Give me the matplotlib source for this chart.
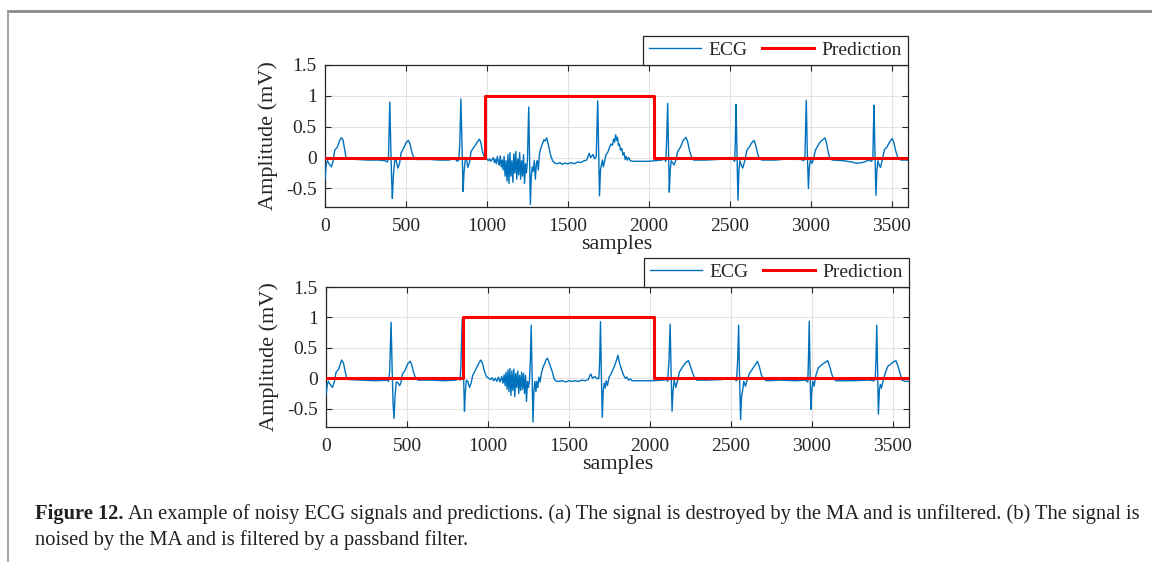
import matplotlib
matplotlib.use('Agg')
import matplotlib.pyplot as plt
from matplotlib.lines import Line2D

plt.rcParams['font.family'] = ['Liberation Serif', 'DejaVu Serif']

# ---------------- data ----------------
x_ticks = [0, 500, 1000, 1500, 2000, 2500, 3000, 3500]
y_ticks = [-0.5, 0, 0.5, 1, 1.5]
y_tick_labels = ['-0.5', '0', '0.5', '1', '1.5']
legend_labels = ['ECG', 'Prediction']

# (a) unfiltered noisy ECG: sample index / amplitude (mV)
ecg_a_x = [0, 8, 15, 25, 40, 50, 60, 76, 90, 100, 110, 120, 130, 140, 200, 260, 330, 370, 385, 392,
           400, 406, 412, 416, 422, 430, 440, 450, 460, 470, 485, 500, 515, 525, 535, 548, 560, 650, 700,
           760, 805, 815, 826, 832, 839, 845, 849, 853, 858, 866, 874, 882, 892, 902, 920, 940, 953, 962,
           972, 985, 995,
           1000, 1008, 1016, 1024, 1032, 1040, 1046, 1052, 1058, 1064, 1070, 1076, 1082, 1088, 1094, 1100,
           1106, 1112, 1118, 1124, 1130, 1136, 1142, 1148, 1154, 1160, 1166, 1172, 1178, 1184, 1190, 1196,
           1202, 1208, 1214, 1220, 1226, 1232, 1238, 1244, 1250,
           1258, 1263, 1268, 1274, 1280, 1286, 1292, 1299, 1305, 1311, 1317, 1324, 1332, 1342, 1352, 1360,
           1369, 1378, 1386, 1393, 1405, 1420, 1435, 1450, 1465, 1480, 1500, 1520, 1540, 1560, 1580, 1600,
           1616, 1625, 1632, 1640, 1655, 1665, 1675, 1684, 1690, 1695, 1701, 1707, 1713, 1719, 1726, 1735,
           1745, 1755, 1765, 1775, 1782, 1788, 1795, 1800, 1806, 1812, 1818, 1825, 1832, 1840, 1847, 1853,
           1860, 1867, 1875, 1885, 1900, 1950, 2000, 2040, 2080, 2095, 2105, 2110, 2116, 2121, 2126, 2132,
           2138, 2146, 2155, 2165, 2178, 2195, 2212, 2229, 2240, 2252, 2265, 2276, 2350, 2420, 2490, 2520,
           2530, 2534, 2538, 2543, 2550, 2556, 2562, 2570, 2580, 2592, 2605, 2620, 2635, 2649, 2660, 2670,
           2682, 2700, 2780, 2860, 2940, 2955, 2963, 2967, 2972, 2978, 2985, 2991, 2998, 3006, 3014, 3028,
           3045, 3060, 3078, 3088, 3098, 3108, 3118, 3135, 3200, 3250, 3280, 3320, 3360, 3375, 3383, 3386,
           3390, 3395, 3402, 3408, 3414, 3422, 3430, 3440, 3455, 3470, 3488, 3503, 3513, 3525, 3540, 3560,
           3600]
ecg_a_y = [-0.35, -0.10, -0.05, -0.10, -0.15, -0.05, 0.12, 0.17, 0.27, 0.32, 0.30, 0.15, 0.00, -0.02,
           -0.03, -0.04, -0.04, -0.05, -0.07, 0.00,
           0.90, 0.20, -0.40, -0.66, -0.30, -0.05, -0.05, -0.17, -0.10, 0.08, 0.15, 0.24, 0.28, 0.22, 0.10,
           0.00, -0.03, -0.03, -0.04, -0.04, -0.02, -0.06, -0.04, 0.20, 0.95, 0.30, -0.20, -0.55, -0.25,
           -0.03, -0.02, -0.16, -0.08, 0.10, 0.17, 0.25, 0.30, 0.25, 0.10, 0.00, -0.02,
           -0.02, -0.05, -0.02, -0.06, -0.03, 0.00, -0.08, -0.03, -0.10, 0.02, -0.06, -0.12, 0.03, -0.15,
           -0.04, -0.20, 0.02, -0.30, -0.05, -0.38, 0.05, -0.42, 0.08, -0.30, -0.05, -0.40, 0.06, -0.25,
           0.10, -0.35, -0.02, -0.28, 0.08, -0.35, -0.05, -0.30, 0.05, -0.42, -0.10, -0.25, -0.05,
           0.82, 0.00, -0.76, -0.30, -0.15, -0.22, -0.05, -0.35, -0.10, -0.05, -0.20, 0.05, 0.15, 0.22,
           0.29, 0.27, 0.32, 0.22, 0.12, 0.04, -0.05, -0.09, -0.10, -0.08, -0.11, -0.09, -0.10, -0.08,
           -0.10, -0.07, -0.08, -0.05, -0.04, 0.02, 0.07, 0.00, 0.05, -0.02, 0.02, 0.92, 0.10, -0.62,
           -0.20, -0.12, -0.04, -0.15, -0.06, 0.05, 0.08, 0.15, 0.22, 0.20, 0.30, 0.25, 0.37, 0.28, 0.33,
           0.20, 0.22, 0.12, 0.15, 0.04, 0.08, -0.03, 0.02, -0.04, 0.00, -0.05, -0.06, -0.06, -0.06,
           -0.05, -0.04, -0.02, -0.06, 0.30, 0.88, 0.20, -0.56, -0.20, -0.05, -0.08, -0.12, -0.05, 0.10,
           0.17, 0.28, 0.33, 0.25, 0.10, 0.00, -0.04, -0.04, -0.03, -0.02, -0.03, -0.06, 0.30, 0.86, 0.20,
           -0.69, -0.20, -0.05, -0.12, -0.17, -0.05, 0.12, 0.17, 0.24, 0.28, 0.20, 0.08, -0.02, -0.04,
           -0.04, -0.02, -0.03, -0.05, -0.02, 0.40, 0.93, 0.10, -0.50, -0.15, -0.04, -0.09, -0.05, 0.12,
           0.20, 0.26, 0.30, 0.32, 0.22, 0.08, -0.02, -0.04, -0.05, -0.07, -0.09, -0.08, -0.04, -0.06,
           -0.02, 0.40, 0.85, 0.20, -0.61, -0.20, -0.05, -0.12, -0.16, -0.05, 0.13, 0.17, 0.26, 0.31, 0.24,
           0.10, -0.02, -0.04, -0.04]

# (b) filtered noisy ECG
ecg_b_x = [0, 8, 15, 25, 40, 52, 62, 78, 90, 97, 108, 118, 128, 140, 220, 300, 380, 385, 393, 402,
           408, 414, 420, 426, 434, 444, 454, 462, 472, 488, 505, 520, 530, 540, 555, 570, 650, 730, 800,
           810, 820, 828, 833, 841, 847, 851, 855, 860, 867, 876, 886, 896, 906, 922, 940, 956, 966, 978,
           990, 1006,
           1015, 1025, 1035, 1045, 1055, 1065, 1075, 1085, 1093, 1100, 1106, 1112, 1118, 1124, 1130, 1136,
           1142, 1148, 1154, 1160, 1166, 1172, 1178, 1184, 1190, 1196, 1202, 1208, 1214, 1220, 1226, 1232,
           1238, 1244, 1250, 1256,
           1262, 1267, 1272, 1278, 1284, 1290, 1296, 1302, 1308, 1315, 1322, 1330, 1340, 1350, 1358, 1367,
           1375, 1385, 1398, 1410, 1425, 1439, 1460, 1480, 1500, 1520, 1540, 1560, 1580, 1600, 1620, 1630,
           1636, 1645, 1660, 1675, 1685, 1690, 1695, 1700, 1706, 1712, 1718, 1724, 1730, 1738, 1748, 1758,
           1768, 1778, 1788, 1796, 1803, 1810, 1818, 1828, 1838, 1848, 1858, 1868, 1880, 1890, 1950, 2017,
           2080, 2100, 2110, 2118, 2125, 2131, 2137, 2143, 2150, 2160, 2170, 2182, 2200, 2222, 2238, 2250,
           2265, 2280, 2290, 2350, 2450, 2490, 2520, 2535, 2542, 2548, 2553, 2560, 2566, 2573, 2580, 2590,
           2600, 2615, 2635, 2650, 2664, 2675, 2688, 2699, 2720, 2800, 2900, 2960, 2975, 2979, 2984, 2989,
           2994, 3000, 3006, 3014, 3025, 3040, 3060, 3080, 3098, 3110, 3122, 3133, 3150, 3250, 3350, 3385,
           3391, 3396, 3401, 3406, 3411, 3417, 3423, 3430, 3440, 3455, 3470, 3490, 3505, 3519, 3532, 3545,
           3556, 3575, 3600]
ecg_b_y = [-0.27, -0.10, -0.05, -0.10, -0.15, -0.05, 0.10, 0.15, 0.25, 0.30, 0.25, 0.12, 0.00, -0.02,
           -0.03, -0.04, -0.03, -0.05, 0.10, 0.92,
           0.20, -0.40, -0.66, -0.30, -0.06, -0.07, -0.12, -0.08, 0.07, 0.13, 0.24, 0.28, 0.22, 0.10,
           -0.01, -0.03, -0.03, -0.04, -0.03, -0.02, 0.00, -0.03, 0.20, 0.97, 0.30, -0.20, -0.54, -0.25,
           -0.03, -0.05, -0.15, -0.08, 0.05, 0.13, 0.23, 0.30, 0.25, 0.12, 0.03, 0.00,
           -0.02, 0.01, -0.04, 0.00, -0.05, 0.02, -0.06, 0.03, -0.08, 0.06, -0.12, 0.10, -0.18, 0.14,
           -0.22, 0.16, -0.28, 0.12, -0.20, 0.15, -0.30, 0.08, -0.15, 0.12, -0.25, 0.05, -0.20, 0.10,
           -0.18, 0.08, -0.25, 0.05, -0.38, -0.05, -0.15, -0.05,
           0.30, 0.87, 0.10, -0.72, -0.20, -0.05, -0.22, -0.05, -0.15, 0.02, -0.06, 0.08, 0.18, 0.24,
           0.30, 0.33, 0.28, 0.20, 0.10, -0.02, -0.05, -0.05, -0.04, -0.06, -0.04, -0.05, -0.04, -0.05,
           -0.03, -0.04, -0.02, 0.05, 0.07, 0.00, 0.03, -0.01, 0.00, 0.30, 0.93, 0.10, -0.64, -0.20,
           -0.08, -0.16, -0.04, -0.12, 0.02, 0.06, 0.12, 0.18, 0.25, 0.32, 0.38, 0.28, 0.20, 0.12, 0.05,
           0.00, 0.02, -0.03, -0.01, -0.04, -0.04, -0.04, -0.03, -0.02, -0.05, 0.30, 0.89, 0.10, -0.54,
           -0.20, -0.03, -0.15, -0.05, 0.10, 0.18, 0.26, 0.29, 0.20, 0.08, -0.01, -0.03, -0.03, -0.02,
           0.01, -0.01, -0.04, 0.30, 0.87, 0.10, -0.68, -0.30, -0.19, -0.05, -0.13, -0.03, 0.08, 0.16,
           0.22, 0.28, 0.20, 0.06, 0.00, -0.04, -0.03, -0.04, -0.03, -0.06, 0.30, 0.94, 0.10, -0.51,
           -0.20, -0.05, -0.13, 0.05, 0.17, 0.22, 0.26, 0.29, 0.20, 0.08, -0.01, -0.04, -0.04, -0.03,
           -0.04, -0.02, 0.30, 0.87, 0.10, -0.59, -0.20, -0.10, -0.16, -0.04, 0.10, 0.20, 0.24, 0.27,
           0.29, 0.20, 0.08, -0.03, -0.05, -0.05]

# predictions (step changes; value holds until the next sample)
pred_a_x = [0, 990, 2030, 3600]
pred_a_y = [0, 1, 0, 0]
pred_b_x = [0, 848, 2025, 3600]
pred_b_y = [0, 1, 0, 0]

caption_bold = 'Figure 12.'
caption_line1 = ('An example of noisy ECG signals and predictions. (a) The signal is destroyed by the MA '
                 'and is unfiltered. (b) The signal is')
caption_line2 = 'noised by the MA and is filtered by a passband filter.'

# ---------------- styling ----------------
ECG_COLOR = '#0072BD'
PRED_COLOR = '#FF0000'
AX_COLOR = '#262626'

W, H = 1152, 562
fig = plt.figure(figsize=(W / 100, H / 100), dpi=100)
fig.patch.set_facecolor('white')

ax1 = fig.add_axes([325 / W, 1 - 207 / H, 583 / W, 142 / H])
ax2 = fig.add_axes([326 / W, 1 - 427 / H, 583 / W, 140 / H])


def draw(ax, ex, ey, px, py):
    l1, = ax.plot(ex, ey, color=ECG_COLOR, lw=1.0, zorder=3)
    l2, = ax.plot(px, py, color=PRED_COLOR, lw=2.2, drawstyle='steps-post', zorder=4)
    ax.set_xlim(0, 3600)
    ax.set_ylim(-0.8, 1.5)
    ax.set_xticks(x_ticks)
    ax.set_yticks(y_ticks)
    ax.set_yticklabels(y_tick_labels)
    ax.grid(True, color='#e3e3e3', lw=0.8)
    ax.set_axisbelow(True)
    ax.tick_params(direction='in', top=True, right=True, length=4, width=0.8,
                   colors=AX_COLOR, labelsize=14)
    ax.tick_params(axis='x', pad=8)
    ax.tick_params(axis='y', pad=6)
    for s in ax.spines.values():
        s.set_color(AX_COLOR)
        s.set_linewidth(0.9)
    ax.set_xlabel('samples', fontsize=16, color=AX_COLOR)
    ax.xaxis.label.set_va('center')
    ax.xaxis.set_label_coords(0.5, -0.265)
    ax.set_ylabel('Amplitude (mV)', fontsize=16, color=AX_COLOR)
    ax.yaxis.label.set_va('center')
    ax.yaxis.set_label_coords(-0.098, 0.5)
    leg = ax.legend([l1, l2], legend_labels, ncol=2, loc='lower right',
                    bbox_to_anchor=(1, 1), bbox_transform=ax.transAxes,
                    frameon=True, fancybox=False, edgecolor=AX_COLOR, framealpha=1,
                    borderaxespad=0, handlelength=2.7, columnspacing=0.7,
                    handletextpad=0.4, fontsize=14, borderpad=0.3)
    leg.get_frame().set_linewidth(0.9)
    for t in leg.get_texts():
        t.set_color(AX_COLOR)


draw(ax1, ecg_a_x, ecg_a_y, pred_a_x, pred_a_y)
draw(ax2, ecg_b_x, ecg_b_y, pred_b_x, pred_b_y)

# page border lines
fig.add_artist(Line2D([7.5 / W, 1], [1 - 10.5 / H, 1 - 10.5 / H], transform=fig.transFigure,
                      color='#8a8a8a', lw=2.0))
fig.add_artist(Line2D([7.5 / W, 7.5 / W], [0, 1 - 10.5 / H], transform=fig.transFigure,
                      color='#9a9a9a', lw=1.3))

# caption
cap_fs = 14.8
t_b = fig.text(35 / W, 1 - 519 / H, caption_bold, fontsize=cap_fs, fontweight='bold',
               va='baseline', ha='left', color='#231f20')
fig.canvas.draw()
bb = t_b.get_window_extent(renderer=fig.canvas.get_renderer())
fig.text((bb.x1 + 4) / W, 1 - 519 / H, caption_line1, fontsize=cap_fs, va='baseline', ha='left',
         color='#231f20')
fig.text(35 / W, 1 - 545 / H, caption_line2, fontsize=cap_fs, va='baseline', ha='left',
         color='#231f20')

fig.savefig('out.png', dpi=100)
